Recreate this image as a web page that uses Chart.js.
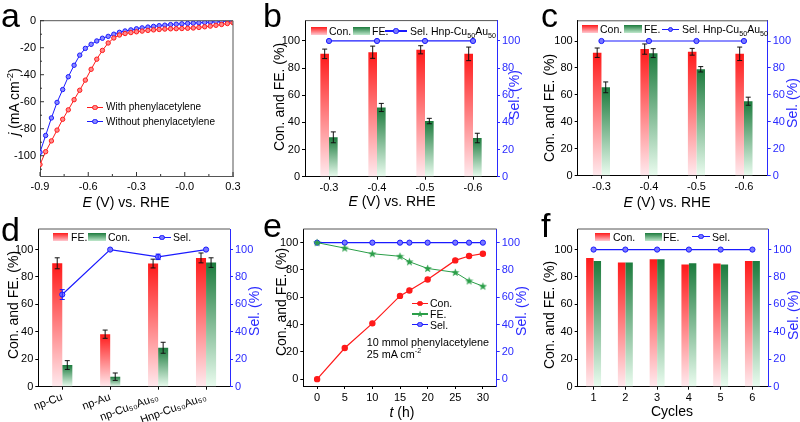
<!DOCTYPE html>
<html>
<head>
<meta charset="utf-8">
<script src="https://cdn.jsdelivr.net/npm/chart.js@4.4.0/dist/chart.umd.min.js"></script>
<style>
body { margin: 0; background: #fff; }
#fig { position: relative; width: 800px; height: 422px; overflow: hidden; background: #fff;
       font-family: 'Liberation Sans', Arial, sans-serif; color: #000; }
#fig canvas { position: absolute; }
.t { position: absolute; white-space: nowrap; line-height: 1; }
.sw { position: absolute; height: 8px; }
sup, sub { font-size: 0.68em; line-height: 0; }
</style>
</head>
<body>
<div id="fig"></div>
<script>
// ---- data ----
// a: polarisation curves
const potA = [-0.9, -0.865, -0.829, -0.794, -0.759, -0.724, -0.688, -0.653, -0.618, -0.582, -0.547, -0.512,
  -0.476, -0.441, -0.406, -0.371, -0.335, -0.3, -0.265, -0.229, -0.194, -0.159, -0.124, -0.088, -0.053,
  -0.018, 0.018, 0.053, 0.088, 0.124, 0.159, 0.194, 0.229, 0.265, 0.3];
const withPA = [-106.5, -97, -89, -81, -73, -66, -58.5, -51.5, -44, -36, -28.5, -22, -16.5, -12.8, -10.6,
  -9.5, -8.8, -8.2, -7.7, -7.2, -6.8, -6.5, -6.2, -6.0, -5.9, -5.8, -5.6, -5.4, -5.0, -4.5, -4.0, -3.4,
  -2.8, -2.1, -1.5];
const withoutPA = [-97.5, -85, -72, -60.5, -51, -41.5, -33, -25.5, -20.5, -17.5, -15, -13, -11.6, -10, -8.6,
  -7.6, -6.8, -6.0, -5.3, -4.7, -4.2, -3.7, -3.3, -2.9, -2.6, -2.3, -2.0, -1.8, -1.5, -1.3, -1.0, -0.8,
  -0.5, -0.3, 0];
const potTicksA = [-0.9, -0.6, -0.3, 0, 0.3];
const potTickLabelsA = ['-0.9', '-0.6', '-0.3', '-0.0', '0.3'];
const currentTicksA = [-100, -80, -60, -40, -20, 0];

// shared percentage ticks
const pctTicks = [0, 20, 40, 60, 80, 100];

// b, c: potentials
const potLabels = ['-0.3', '-0.4', '-0.5', '-0.6'];
const conB = [90.5, 91.7, 93.5, 90.5];
const conErrB = [3.5, 4.5, 3, 5];
const feB = [29, 51, 41, 28.5];
const feErrB = [4, 3, 2, 3.5];
const selB = [100, 100, 100, 100];

const conC = [91.3, 94, 92, 90.5];
const conErrC = [3.5, 3.8, 2.5, 5];
const feC = [65.6, 91, 79, 55.3];
const feErrC = [4, 3.3, 2, 3];
const selC = [100, 100, 100, 100];

// d: catalysts (legend in the figure: red = FE., green = Con.)
const catalysts = ['np-Cu', 'np-Au', 'np-Cu₅₀Au₅₀', 'Hnp-Cu₅₀Au₅₀'];
const feD = [90, 38.3, 89.8, 93.9];
const feErrD = [4, 3, 3.2, 3.6];
const conD = [15.8, 7.3, 28.4, 90.5];
const conErrD = [3.2, 2.7, 4, 3.5];
const selD = [67.2, 100, 94.7, 100];
const selErrD = [3.6, 0, 2, 0];

// e: long-term run
const timeE = [0, 5, 10, 15, 16.7, 20, 25, 27.5, 30];
const conE = [0, 22.8, 40.9, 61, 65, 73, 87, 90.2, 91.9];
const feE = [100, 96, 91.9, 90, 86, 81.1, 78.2, 72, 68.1];
const selE = [100, 100, 100, 100, 100, 100, 100, 100, 100];
const timeTicksE = [0, 5, 10, 15, 20, 25, 30];

// f: cycles
const cycles = ['1', '2', '3', '4', '5', '6'];
const conF = [93.9, 90.5, 93, 89.1, 89.8, 91.7];
const feF = [91.7, 90.5, 93, 90, 89.1, 91.7];
const selF = [100, 100, 100, 100, 100, 100];

// ---- style ----
const RED = '#ff1a1a', RED_BOT = '#ffeaee';
const GREEN = '#1c7b3d', GREEN_BOT = '#eafcef';
const BLUE = '#1a1aff', BLUE_TXT = '#2a2aff';
const GREEN_LINE = '#2a9e48';

Chart.defaults.font.family = "'Liberation Sans', Arial, sans-serif";
Chart.defaults.font.size = 11;
Chart.defaults.color = '#000';
Chart.defaults.animation = false;
Chart.defaults.plugins.legend.display = false;
Chart.defaults.plugins.tooltip.enabled = false;

const fig = document.getElementById('fig');

// per-bar vertical gradient
function grad(top, bot) {
  return ctx => {
    const ch = ctx.chart;
    if (!ch.chartArea || ctx.type !== 'data') return top;
    const ys = ch.scales[ctx.dataset.yAxisID || 'y'];
    const g = ch.ctx.createLinearGradient(0, ys.getPixelForValue(ctx.raw), 0, ys.getPixelForValue(0));
    g.addColorStop(0, top);
    g.addColorStop(1, bot);
    return g;
  };
}

// fixed tick positions
function fixTicks(values) {
  return s => { s.ticks = values.map(v => ({ value: v })); };
}

function yScale(pos, color, min, max, extra) {
  return Object.assign({
    type: 'linear', position: pos, min: min, max: max, display: true,
    afterBuildTicks: fixTicks(pctTicks),
    ticks: { padding: 2, color: color, font: { size: 11 }, autoSkip: false },
    grid: { drawOnChartArea: false, tickLength: 3, color: color },
    border: { color: color, width: 1 }
  }, extra || {});
}

function xCat(extra) {
  return Object.assign({
    type: 'category', offset: true,
    ticks: { padding: 2, color: '#000', font: { size: 11 } },
    grid: { offset: false, drawOnChartArea: false, tickLength: 3, color: '#000' },
    border: { color: '#000' }
  }, extra || {});
}

function barDs(data, errs, top, bot, pct) {
  return { type: 'bar', data: data, errors: errs, backgroundColor: grad(top, bot), borderWidth: 0,
    categoryPercentage: pct, barPercentage: 1, yAxisID: 'y', order: 2 };
}

function selDs(data, errs) {
  return { type: 'line', data: data, errors: errs, errColor: BLUE, yAxisID: 'y2', borderColor: BLUE,
    borderWidth: 1.2, pointRadius: 2.6, pointBorderWidth: 1, pointBackgroundColor: '#7878ff',
    pointBorderColor: BLUE, order: 0 };
}

const errorBars = {
  id: 'errorBars',
  afterDatasetsDraw(chart) {
    const c = chart.ctx;
    chart.data.datasets.forEach((ds, i) => {
      if (!ds.errors) return;
      const meta = chart.getDatasetMeta(i);
      const ys = chart.scales[meta.yAxisID];
      meta.data.forEach((el, j) => {
        const e = ds.errors[j];
        if (!e) return;
        const y1 = ys.getPixelForValue(ds.data[j] + e), y2 = ys.getPixelForValue(ds.data[j] - e);
        c.save();
        c.strokeStyle = ds.errColor || '#111';
        c.lineWidth = 1;
        c.beginPath();
        c.moveTo(el.x, y1); c.lineTo(el.x, y2);
        c.moveTo(el.x - 2.5, y1); c.lineTo(el.x + 2.5, y1);
        c.moveTo(el.x - 2.5, y2); c.lineTo(el.x + 2.5, y2);
        c.stroke();
        c.restore();
      });
    });
  }
};

function frame(opts) {
  return {
    id: 'frame',
    afterDraw(chart) {
      const a = chart.chartArea, c = chart.ctx;
      c.save();
      c.lineWidth = 1;
      c.strokeStyle = opts.top;
      c.beginPath();
      c.moveTo(a.left, a.top); c.lineTo(a.right, a.top);
      if (opts.right) { c.moveTo(a.right, a.top); c.lineTo(a.right, a.bottom); }
      c.stroke();
      if (opts.inward) {
        const xs = chart.scales.x, ys = chart.scales.y;
        c.strokeStyle = '#333';
        c.beginPath();
        xs.ticks.forEach(t => {
          const p = xs.getPixelForValue(t.value);
          c.moveTo(p, a.bottom); c.lineTo(p, a.bottom - 4);
          const m = xs.getPixelForValue(t.value + 0.15);
          if (m < a.right) { c.moveTo(m, a.bottom); c.lineTo(m, a.bottom - 2); }
        });
        ys.ticks.forEach(t => {
          const p = ys.getPixelForValue(t.value);
          c.moveTo(a.left, p); c.lineTo(a.left + 4, p);
          const m = ys.getPixelForValue(t.value - 10);
          if (m < a.bottom) { c.moveTo(a.left, m); c.lineTo(a.left + 2, m); }
        });
        c.stroke();
      }
      c.restore();
    }
  };
}

// place a chart so that its plot area lands on the given box
function panel(cell, plot, config) {
  const cv = document.createElement('canvas');
  cv.width = cell[2]; cv.height = cell[3];
  cv.style.left = cell[0] + 'px'; cv.style.top = cell[1] + 'px';
  cv.style.width = cell[2] + 'px'; cv.style.height = cell[3] + 'px';
  fig.appendChild(cv);
  const o = config.options;
  o.responsive = false;
  o.maintainAspectRatio = false;
  o.layout = { autoPadding: false, padding: { top: plot.top - cell[1], left: 0, bottom: 0,
    right: o.scales.y2 ? 0 : cell[0] + cell[2] - plot.right } };
  o.scales.x.afterFit = s => { s.height = cell[1] + cell[3] - plot.bottom; };
  o.scales.y.afterFit = s => { s.width = plot.left - cell[0]; };
  if (o.scales.y2) o.scales.y2.afterFit = s => { s.width = cell[0] + cell[2] - plot.right; };
  return new Chart(cv, config);
}

// text overlays
function txt(html, x, y, o) {
  o = o || {};
  const d = document.createElement('div');
  d.className = 't';
  d.innerHTML = html;
  d.style.left = x + 'px';
  d.style.top = y + 'px';
  d.style.fontSize = (o.size || 14) + 'px';
  if (o.color) d.style.color = o.color;
  d.style.transform = o.rot ? 'translate(-50%,-50%) rotate(-90deg)'
    : (o.left ? 'translate(0,-50%)' : 'translate(-50%,-50%)');
  fig.appendChild(d);
}
function sw(x, y, w, c1, c2) {
  const d = document.createElement('div');
  d.className = 'sw';
  Object.assign(d.style, { left: x + 'px', top: (y - 4) + 'px', width: w + 'px',
    background: 'linear-gradient(' + c1 + ',' + c2 + ')' });
  fig.appendChild(d);
}
function mark(x1, x2, y, color, fill, star) {
  const l = document.createElement('div');
  Object.assign(l.style, { position: 'absolute', left: x1 + 'px', top: (y - 0.75) + 'px',
    width: (x2 - x1) + 'px', height: '1.5px', background: color });
  fig.appendChild(l);
  const m = document.createElement('div');
  const cx = (x1 + x2) / 2;
  if (star) {
    m.textContent = '★';
    Object.assign(m.style, { position: 'absolute', left: cx + 'px', top: y + 'px', lineHeight: 1,
      transform: 'translate(-50%,-50%)', color: color, fontSize: '9px' });
  } else {
    Object.assign(m.style, { position: 'absolute', left: (cx - 2.6) + 'px', top: (y - 2.6) + 'px',
      width: '5.2px', height: '5.2px', borderRadius: '50%', boxSizing: 'border-box',
      border: '1px solid ' + color, background: fill });
  }
  fig.appendChild(m);
}

// star marker for FE. in e
const star = document.createElement('canvas');
star.width = star.height = 9;
(function () {
  const sc = star.getContext('2d');
  sc.fillStyle = GREEN_LINE;
  sc.beginPath();
  for (let k = 0; k < 10; k++) {
    const r = k % 2 ? 1.8 : 4.4, ang = -Math.PI / 2 + k * Math.PI / 5;
    sc.lineTo(4.5 + r * Math.cos(ang), 4.8 + r * Math.sin(ang));
  }
  sc.closePath();
  sc.fill();
})();

// ---- a ----
panel([0, 0, 265, 211], { left: 40, right: 233, top: 20.7, bottom: 176 }, {
  type: 'line',
  data: { datasets: [
    { data: potA.map((x, i) => ({ x: x, y: withPA[i] })), borderColor: RED, borderWidth: 1,
      pointRadius: 2.2, pointBorderWidth: 1, pointBackgroundColor: '#ff8a8a', pointBorderColor: RED },
    { data: potA.map((x, i) => ({ x: x, y: withoutPA[i] })), borderColor: BLUE, borderWidth: 1,
      pointRadius: 2.2, pointBorderWidth: 1, pointBackgroundColor: '#8a8aff', pointBorderColor: BLUE }
  ] },
  options: { scales: {
    x: { type: 'linear', min: -0.9, max: 0.3, afterBuildTicks: fixTicks(potTicksA),
      ticks: { padding: 4, color: '#000', autoSkip: false,
        callback: (v, i) => potTickLabelsA[i] },
      grid: { drawOnChartArea: false, drawTicks: false }, border: { color: '#555' } },
    y: { type: 'linear', min: -115, max: 0, afterBuildTicks: fixTicks(currentTicksA),
      ticks: { padding: 4, color: '#000', autoSkip: false },
      grid: { drawOnChartArea: false, drawTicks: false }, border: { color: '#555' } }
  } },
  plugins: [frame({ top: '#555', right: '#555', inward: true })]
});

// ---- b ----
panel([265, 0, 265, 211], { left: 305, right: 497, top: 20.6, bottom: 176.7 }, {
  type: 'bar',
  data: { labels: potLabels, datasets: [
    barDs(conB, conErrB, RED, RED_BOT, 0.36),
    barDs(feB, feErrB, GREEN, GREEN_BOT, 0.36),
    selDs(selB)
  ] },
  options: { scales: { x: xCat(), y: yScale('left', '#000', 0, 115), y2: yScale('right', BLUE_TXT, 0, 115) } },
  plugins: [errorBars, frame({ top: '#555' })]
});

// ---- c ----
panel([530, 0, 270, 211], { left: 577.7, right: 767.7, top: 20.8, bottom: 175.7 }, {
  type: 'bar',
  data: { labels: potLabels, datasets: [
    barDs(conC, conErrC, RED, RED_BOT, 0.36),
    barDs(feC, feErrC, GREEN, GREEN_BOT, 0.36),
    selDs(selC)
  ] },
  options: { scales: { x: xCat(), y: yScale('left', '#000', 0, 115), y2: yScale('right', BLUE_TXT, 0, 115) } },
  plugins: [errorBars, frame({ top: '#555' })]
});

// ---- d ----
panel([0, 211, 265, 211], { left: 38.3, right: 230, top: 229, bottom: 386.7 }, {
  type: 'bar',
  data: { labels: catalysts, datasets: [
    barDs(feD, feErrD, RED, RED_BOT, 0.42),
    barDs(conD, conErrD, GREEN, GREEN_BOT, 0.42),
    selDs(selD, selErrD)
  ] },
  options: { scales: {
    x: xCat({ ticks: { padding: 1, color: '#000', font: { size: 11 }, minRotation: 20, maxRotation: 20, autoSkip: false } }),
    y: yScale('left', '#000', 0, 115), y2: yScale('right', BLUE_TXT, 0, 115) } },
  plugins: [errorBars, frame({ top: '#555' })]
});

// ---- e ----
// left-axis series first, otherwise the left axis lost its labels
panel([265, 211, 265, 211], { left: 303.3, right: 496.7, top: 229, bottom: 386 }, {
  type: 'line',
  data: { datasets: [
    { data: timeE.map((t, i) => ({ x: t, y: conE[i] })), yAxisID: 'y', borderColor: RED, borderWidth: 1.2,
      pointRadius: 2.6, pointBackgroundColor: RED, pointBorderColor: RED },
    { data: timeE.map((t, i) => ({ x: t, y: feE[i] })), yAxisID: 'y', borderColor: GREEN_LINE, borderWidth: 1,
      pointStyle: star },
    { data: timeE.map((t, i) => ({ x: t, y: selE[i] })), yAxisID: 'y2', borderColor: BLUE, borderWidth: 1.2,
      pointRadius: 2.6, pointBorderWidth: 1, pointBackgroundColor: '#7878ff', pointBorderColor: BLUE }
  ] },
  options: { scales: {
    x: { type: 'linear', min: -2.5, max: 32.5, afterBuildTicks: fixTicks(timeTicksE),
      ticks: { padding: 2, color: '#000', autoSkip: false },
      grid: { drawOnChartArea: false, tickLength: 3, color: '#000' }, border: { color: '#000' } },
    y: yScale('left', '#000', -5, 110), y2: yScale('right', BLUE_TXT, -5, 110) } },
  plugins: [frame({ top: '#555' })]
});

// ---- f ----
panel([530, 211, 270, 211], { left: 577.7, right: 768.3, top: 229, bottom: 386.7 }, {
  type: 'bar',
  data: { labels: cycles, datasets: [
    barDs(conF, null, RED, RED_BOT, 0.47),
    barDs(feF, null, GREEN, GREEN_BOT, 0.47),
    selDs(selF)
  ] },
  options: { scales: { x: xCat(), y: yScale('left', '#000', 0, 115), y2: yScale('right', BLUE_TXT, 0, 115) } },
  plugins: [errorBars, frame({ top: '#555' })]
});

// ---- panel letters ----
txt('a', 1, 15, { size: 34, left: true });
txt('b', 263, 15, { size: 34, left: true });
txt('c', 541, 15, { size: 34, left: true });
txt('d', 1, 229, { size: 34, left: true });
txt('e', 263, 225, { size: 34, left: true });
txt('f', 541, 225, { size: 34, left: true });

// ---- axis titles ----
const ERHE = '<i>E</i> (V) vs. RHE';
const CF = 'Con. and FE. (%)';
txt(ERHE, 126, 201.5);
txt('<i>j</i> (mA cm<sup>-2</sup>)', 13.5, 102, { rot: true });
txt(ERHE, 392, 201);
txt(CF, 279, 97, { rot: true });
txt('Sel. (%)', 514, 95, { rot: true, color: BLUE_TXT });
txt(ERHE, 667, 201.5);
txt(CF, 549, 108, { rot: true });
txt('Sel. (%)', 792, 103, { rot: true, color: BLUE_TXT });
txt(CF, 12.5, 305, { rot: true });
txt('Sel. (%)', 254, 311, { rot: true, color: BLUE_TXT });
txt('<i>t</i> (h)', 402, 411.5);
txt(CF, 281, 302, { rot: true });
txt('Sel. (%)', 521, 311, { rot: true, color: BLUE_TXT });
txt('Cycles', 672, 410.5);
txt(CF, 549, 315, { rot: true });
txt('Sel. (%)', 793, 315, { rot: true, color: BLUE_TXT });

// ---- legends ----
const SELH = 'Sel. Hnp-Cu<sub>50</sub>Au<sub>50</sub>';
// a
mark(87, 103, 107.3, RED, '#ff8a8a');
txt('With phenylacetylene', 106, 107.3, { size: 10, left: true });
mark(87, 103, 121.7, BLUE, '#8a8aff');
txt('Without phenylacetylene', 106, 121.7, { size: 10, left: true });
// b
sw(311, 31, 16, RED, '#ffc8d0'); txt('Con.', 329, 31, { size: 10.5, left: true });
sw(353, 31, 17, GREEN, '#bfe8cc'); txt('FE.', 372, 31, { size: 10.5, left: true });
mark(385, 407, 31, BLUE, '#7878ff'); txt(SELH, 410, 31, { size: 10.5, left: true });
// c
sw(582, 29.3, 16, RED, '#ffc8d0'); txt('Con.', 600, 29.3, { size: 10.5, left: true });
sw(624, 29.3, 18, GREEN, '#bfe8cc'); txt('FE.', 644, 29.3, { size: 10.5, left: true });
mark(662, 679, 29.3, BLUE, '#7878ff'); txt(SELH, 682, 29.3, { size: 10.5, left: true });
// d
sw(53, 237.3, 15, RED, '#ffc8d0'); txt('FE.', 71, 237.3, { size: 10.5, left: true });
sw(88, 237.3, 18, GREEN, '#bfe8cc'); txt('Con.', 108, 237.3, { size: 10.5, left: true });
mark(153, 171, 237.3, BLUE, '#7878ff'); txt('Sel.', 173, 237.3, { size: 10.5, left: true });
// e
mark(411.7, 428.3, 303.3, RED, RED); txt('Con.', 430, 303.3, { size: 10.5, left: true });
mark(411.7, 428.3, 314, GREEN_LINE, GREEN_LINE, true); txt('FE.', 430, 314, { size: 10.5, left: true });
mark(411.7, 428.3, 324.5, BLUE, '#7878ff'); txt('Sel.', 430, 324.5, { size: 10.5, left: true });
txt('10 mmol phenylacetylene', 366.7, 341.7, { size: 10.8, left: true });
txt('25 mA cm<sup>-2</sup>', 366.7, 354, { size: 10.8, left: true });
// f
sw(595, 236.7, 15, RED, '#ffc8d0'); txt('Con.', 613, 236.7, { size: 10.5, left: true });
sw(645, 236.7, 17, GREEN, '#bfe8cc'); txt('FE.', 663, 236.7, { size: 10.5, left: true });
mark(692, 710, 236.7, BLUE, '#7878ff'); txt('Sel.', 712, 236.7, { size: 10.5, left: true });
</script>
</body>
</html>
